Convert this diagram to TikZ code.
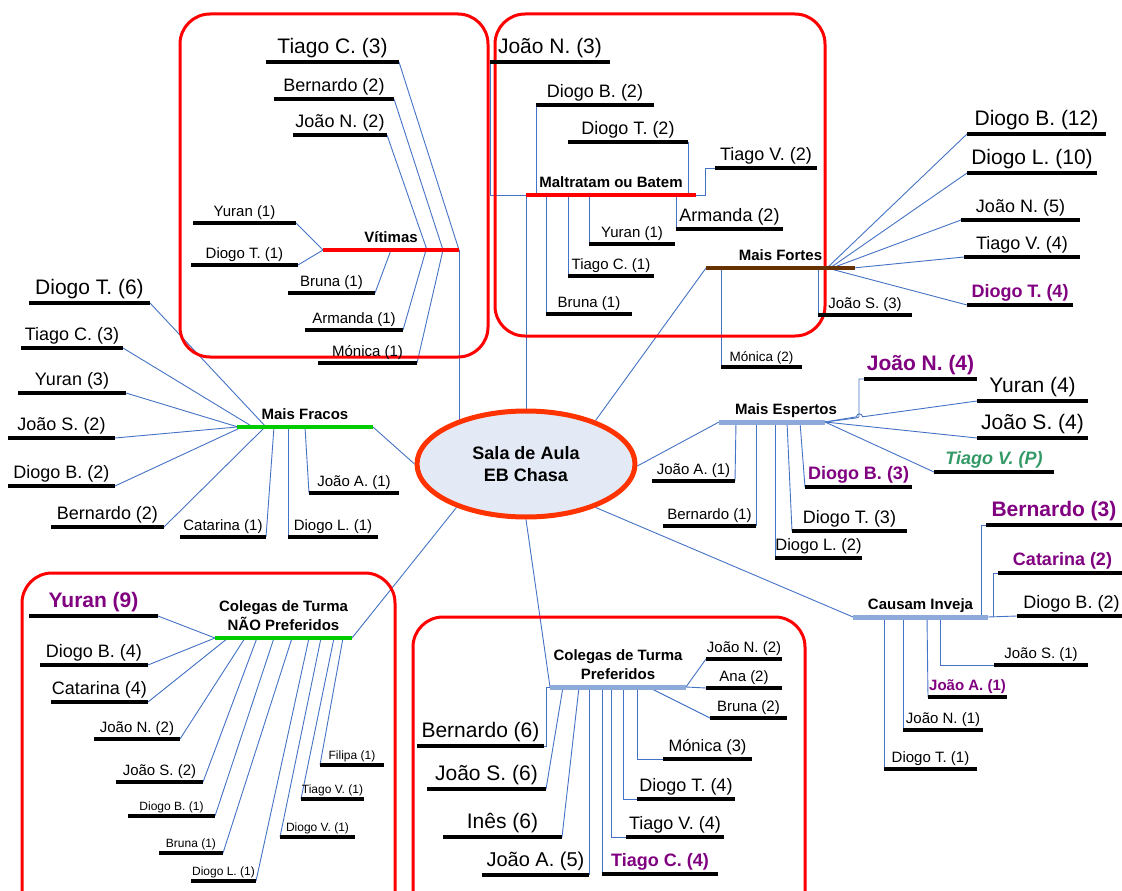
\documentclass[tikz,border=0pt]{standalone}
\usepackage{fontspec}
\setmainfont{Liberation Sans}
\usetikzlibrary{shapes.geometric,backgrounds}

\definecolor{connblue}{HTML}{4472C4}
\definecolor{boxred}{HTML}{FF0000}
\definecolor{hubedge}{HTML}{FF3300}
\definecolor{hubfill}{HTML}{E4EAF5}
\definecolor{grbar}{HTML}{00CC00}
\definecolor{brbar}{HTML}{663300}
\definecolor{stbar}{HTML}{8EAADB}
\definecolor{hlpurple}{HTML}{800080}
\definecolor{hlgreen}{HTML}{339966}

\tikzset{
  conn/.style={draw=connblue, line width=0.9pt},
  underline/.style={draw=black, line width=4pt},
  leaftext/.style={inner sep=0pt, anchor=base},
  cattext/.style={inner sep=0pt, anchor=base, align=center,
                  font=\fontsize{15}{19}\selectfont\bfseries},
  redbar/.style={draw=boxred, line width=4.5pt},
  greenbar/.style={draw=grbar, line width=4.5pt},
  brownbar/.style={draw=brbar, line width=4.5pt},
  steelbar/.style={draw=stbar, line width=5pt},
  groupframe/.style={draw=boxred, line width=3pt, rounded corners=30pt},
  hub/.style={ellipse, draw=hubedge, fill=hubfill, line width=5pt,
              minimum width=218pt, minimum height=106pt, inner sep=0pt,
              align=center, font=\fontsize{18}{22}\selectfont\bfseries},
}

% emphasised names
\newcommand\hilite{\bfseries\color{hlpurple}}
\newcommand\favored{\bfseries\itshape\color{hlgreen}}

% \leaf[prefix]{name}{x1}{x2}{y}{size}{text}: underlined name
\newcommand\leaf[7][]{%
  \coordinate (#2-l) at (#3,#5);
  \coordinate (#2-r) at (#4,#5);
  \draw[underline] (#2-l) -- (#2-r);
  \node[leaftext, font=\fontsize{#6}{#6}\selectfont] (#2)
    at ({(#3+#4)/2},{#5-0.4*#6-0.5}) {#1#7};
}

% \branch[label shift]{name}{x1}{x2}{y}{bar style}{label}: category bar with title
\newcommand\branch[7][0]{%
  \coordinate (#2-l) at (#3,#5);
  \coordinate (#2-r) at (#4,#5);
  \draw[#6] (#2-l) -- (#2-r);
  \node[cattext] (#2) at ({(#3+#4)/2+#1},{#5-7.5}) {#7};
}

\begin{document}
\begin{tikzpicture}[x=1pt,y=-1pt]
\useasboundingbox (0,0) rectangle (1122,891);

% group frames
\draw[groupframe] (180,14) rectangle (488,357);
\draw[groupframe] (495,14) rectangle (825,336);
\draw[groupframe] (22,573) rectangle (395,960);
\draw[groupframe] (413,617) rectangle (805,960);

% ---- Vitimas
\branch{vit}{323}{459}{250}{redbar}{Vítimas}
\leaf{vTC}{266}{399}{62}{21}{Tiago C. (3)}
\leaf{vBE}{274}{394}{99}{18}{Bernardo (2)}
\leaf{vJN}{293}{387}{135}{18}{João N. (2)}
\leaf{vYU}{193}{296}{223}{15}{Yuran (1)}
\leaf{vDT}{191}{298}{265}{15}{Diogo T. (1)}
\leaf{vBR}{288}{375}{293}{15}{Bruna (1)}
\leaf{vAR}{305}{403}{330}{15}{Armanda (1)}
\leaf{vMO}{318}{417}{363}{15}{Mónica (1)}

% ---- Maltratam ou Batem
\branch{mal}{526}{696}{195}{redbar}{Maltratam ou Batem}
\leaf{mJN}{490}{610}{62}{21}{João N. (3)}
\leaf{mDB}{536}{654}{105}{18}{Diogo B. (2)}
\leaf{mDT}{568}{688}{142}{18}{Diogo T. (2)}
\leaf{mTV}{715}{817}{168}{18}{Tiago V. (2)}
\leaf{mAR}{676}{783}{229}{18}{Armanda (2)}
\leaf{mYU}{589}{675}{244}{15}{Yuran (1)}
\leaf{mTC}{568}{654}{276}{15}{Tiago C. (1)}
\leaf{mBR}{546}{632}{314}{15}{Bruna (1)}

% ---- Mais Fortes
\branch{for}{706}{855}{268}{brownbar}{Mais Fortes}
\leaf{fDB}{967}{1106}{134}{21}{Diogo B. (12)}
\leaf{fDL}{967}{1097}{173}{21}{Diogo L. (10)}
\leaf{fJN}{961}{1080}{220}{18}{João N. (5)}
\leaf{fTV}{964}{1080}{257}{18}{Tiago V. (4)}
\leaf[\hilite]{fDT}{967}{1073}{305}{18}{Diogo T. (4)}
\leaf{fJS}{818}{912}{315}{15}{João S. (3)}
\leaf{fMO}{721}{802}{367}{13.5}{Mónica (2)}

% ---- Mais Fracos
\branch{fra}{237}{373}{427}{greenbar}{Mais Fracos}
\leaf{wDT}{29}{150}{303}{21}{Diogo T. (6)}
\leaf{wTC}{21}{123}{348}{18}{Tiago C. (3)}
\leaf{wYU}{18}{126}{393}{18}{Yuran (3)}
\leaf{wJS}{8}{115}{438}{18}{João S. (2)}
\leaf{wDB}{8}{115}{486}{18}{Diogo B. (2)}
\leaf{wBE}{51}{164}{527}{18}{Bernardo (2)}
\leaf{wCA}{180}{266}{537}{15}{Catarina (1)}
\leaf{wDL}{288}{378}{537}{15}{Diogo L. (1)}
\leaf{wJA}{309}{399}{493}{15}{João A. (1)}

% ---- Mais Espertos
\branch[14]{esp}{719}{825}{422}{steelbar}{Mais Espertos}
\leaf[\hilite]{eJN}{864}{977}{379}{21}{João N. (4)}
\leaf{eYU}{977}{1088}{401}{21}{Yuran (4)}
\leaf{eJS}{977}{1088}{438}{21}{João S. (4)}
\leaf[\favored]{eTV}{934}{1054}{472}{18}{Tiago V. (P)}
\leaf[\hilite]{eDB}{805}{912}{487}{18}{Diogo B. (3)}
\leaf{eDT}{792}{907}{531}{18}{Diogo T. (3)}
\leaf{eDL}{775}{862}{558}{16.5}{Diogo L. (2)}
\leaf{eBE}{663}{756}{526}{15}{Bernardo (1)}
\leaf{eJA}{652}{735}{481}{15}{João A. (1)}

% ---- Causam Inveja
\branch{inv}{853}{988}{617}{steelbar}{Causam Inveja}
\leaf[\hilite]{iBE}{986}{1122}{525}{21}{Bernardo (3)}
\leaf[\hilite]{iCA}{998}{1127}{573}{18}{Catarina (2)}
\leaf{iDB}{1017}{1126}{616}{18}{Diogo B. (2)}
\leaf{iJS}{994}{1088}{665}{15}{João S. (1)}
\leaf[\hilite]{iJA}{928}{1007}{697}{15}{João A. (1)}
\leaf{iJN}{903}{983}{730}{15}{João N. (1)}
\leaf{iDT}{884}{977}{769}{15}{Diogo T. (1)}

% ---- Colegas de Turma NAO Preferidos
\branch{nao}{215}{352}{638}{greenbar}{Colegas de Turma\\NÃO Preferidos}
\leaf[\hilite]{nYU}{29}{158}{616}{21}{Yuran (9)}
\leaf{nDB}{40}{148}{665}{18}{Diogo B. (4)}
\leaf{nCA}{51}{148}{702}{18}{Catarina (4)}
\leaf{nJN}{94}{180}{739}{15}{João N. (2)}
\leaf{nJS}{116}{203}{782}{15}{João S. (2)}
\leaf{nDBb}{128}{215}{816}{12}{Diogo B. (1)}
\leaf{nBR}{159}{223}{853}{12}{Bruna (1)}
\leaf{nDL}{191}{256}{881}{12}{Diogo L. (1)}
\leaf{nDV}{280}{355}{837}{12}{Diogo V. (1)}
\leaf{nTV}{301}{364}{799}{12}{Tiago V. (1)}
\leaf{nFI}{320}{384}{765}{12}{Filipa (1)}

% ---- Colegas de Turma Preferidos
\branch{pre}{550}{686}{687}{steelbar}{Colegas de Turma\\Preferidos}
\leaf{pJN}{706}{782}{659}{15}{João N. (2)}
\leaf{pAN}{706}{782}{688}{15}{Ana (2)}
\leaf{pBR}{710}{787}{718}{15}{Bruna (2)}
\leaf{pMO}{663}{752}{759}{16.5}{Mónica (3)}
\leaf{pDT}{637}{735}{799}{18}{Diogo T. (4)}
\leaf{pTV}{626}{724}{837}{18}{Tiago V. (4)}
\leaf[\hilite]{pTC}{602}{718}{874}{18}{Tiago C. (4)}
\leaf{pJA}{482}{589}{875}{20}{João A. (5)}
\leaf{pIN}{443}{562}{837}{21}{Inês (6)}
\leaf{pJS}{427}{546}{789}{21}{João S. (6)}
\leaf{pBE}{417}{544}{746}{21}{Bernardo (6)}

% ---- centre
\node[hub] (hub) at (526,464) {Sala de Aula\\EB Chasa};

% ---- connectors
\begin{pgfonlayer}{background}
% Vitimas
\draw[conn] (vTC-r) -- (vit-r);
\draw[conn] (vBE-r) -- ([xshift=120pt]vit-l);
\draw[conn] (vJN-r) -- ([xshift=104pt]vit-l);
\draw[conn] (vYU-r) -- (vit-l);
\draw[conn] (vDT-r) -- (vit-l);
\draw[conn] (vBR-r) -- ([xshift=68pt]vit-l);
\draw[conn] (vAR-r) -- ([xshift=103pt]vit-l);
\draw[conn] (vMO-r) -- ([xshift=120pt]vit-l);
\draw[conn] (vit-r) -- (vit-r |- hub.center);
% Maltratam ou Batem
\draw[conn] (mJN-l) |- (mal-l);
\draw[conn] (mDB-l) -- (mDB-l |- mal-l);
\draw[conn] (mDT-r) -- (mDT-r |- mal-l);
\draw[conn] (mal-r) -- ++(9,0) |- (mTV-l);
\draw[conn] (mAR-l) -- (mAR-l |- mal-l);
\draw[conn] (mYU-l) -- (mYU-l |- mal-l);
\draw[conn] (mTC-l) -- (mTC-l |- mal-l);
\draw[conn] (mBR-l) -- (mBR-l |- mal-l);
\draw[conn] (mal-l) -- (mal-l |- hub.center);
% Mais Fortes
\draw[conn] (fDB-l) -- ([xshift=121pt]for-l);
\draw[conn] (fDL-l) -- ([xshift=124pt]for-l);
\draw[conn] (fJN-l) -- ([xshift=126pt]for-l);
\draw[conn] (fTV-l) -- ([xshift=147pt]for-l);
\draw[conn] (fDT-l) -- ([xshift=121pt]for-l);
\draw[conn] (fJS-l) -- (fJS-l |- for-l);
\draw[conn] (fMO-l) -- (fMO-l |- for-l);
\draw[conn] (for-l) -- (hub.32);
% Mais Fracos
\draw[conn] (wDT-r) -- ([xshift=29pt]fra-l);
\draw[conn] (wTC-r) -- ([xshift=16pt]fra-l);
\draw[conn] (wYU-r) -- ([xshift=1pt]fra-l);
\draw[conn] (wJS-r) -- (fra-l);
\draw[conn] (wDB-r) -- ([xshift=5pt]fra-l);
\draw[conn] (wBE-r) -- ([xshift=28pt]fra-l);
\draw[conn] (wCA-r) -- ([xshift=37pt]fra-l);
\draw[conn] (wDL-l) -- (wDL-l |- fra-l);
\draw[conn] (wJA-l) -- ([xshift=68pt]fra-l);
\draw[conn] (fra-r) -- (hub.180);
% Mais Espertos
\draw[conn] (esp-r) -- ++(31,-4) -- ++(3,-1) |- (eJN-l);
\draw[conn] (eYU-l) -- (862.5,416.8) arc[start angle=0,end angle=-180,radius=3]
            -- (esp-r);
\draw[conn] (eJS-l) -- (esp-r);
\draw[conn] (eTV-l) -- (esp-r);
\draw[conn] (eDB-l) -- ([xshift=81pt]esp-l);
\draw[conn] (eDT-l) -- ([xshift=68pt]esp-l);
\draw[conn] (eDL-l) -- (eDL-l |- esp-l);
\draw[conn] (eBE-r) -- (eBE-r |- esp-l);
\draw[conn] (eJA-r) -- ([xshift=17pt]esp-l);
\draw[conn] (esp-l) -- (hub.-1);
% Causam Inveja
\draw[conn] ([xshift=128pt]inv-l) |- (iBE-l);
\draw[conn] ([xshift=140pt]inv-l) |- (iCA-l);
\draw[conn] (inv-r) -- (iDB-l);
\draw[conn] ([xshift=87pt]inv-l) |- (iJS-l);
\draw[conn] ([xshift=74pt]inv-l) -- (iJA-l);
\draw[conn] (iJN-l) -- (iJN-l |- inv-l);
\draw[conn] (iDT-l) -- (iDT-l |- inv-l);
\draw[conn] (inv-l) -- (hub.-32);
% Colegas de Turma NAO Preferidos
\draw[conn] (nYU-r) -- (nao-l);
\draw[conn] (nDB-r) -- (nao-l);
\draw[conn] (nCA-r) -- ([xshift=13pt]nao-l);
\draw[conn] (nJN-r) -- ([xshift=30pt]nao-l);
\draw[conn] (nJS-r) -- ([xshift=42pt]nao-l);
\draw[conn] (nDBb-r) -- ([xshift=59pt]nao-l);
\draw[conn] (nBR-r) -- ([xshift=77pt]nao-l);
\draw[conn] (nDL-r) -- ([xshift=94pt]nao-l);
\draw[conn] (nDV-l) -- ([xshift=106pt]nao-l);
\draw[conn] (nTV-l) -- ([xshift=119pt]nao-l);
\draw[conn] (nFI-l) -- ([xshift=128pt]nao-l);
\draw[conn] (nao-r) -- (hub.212);
% Colegas de Turma Preferidos
\draw[conn] (pre-r) -- (pJN-l);
\draw[conn] (pre-r) -- (pAN-l);
\draw[conn] (pBR-l) -- ([xshift=98pt]pre-l);
\draw[conn] ([xshift=87pt]pre-l) |- (pMO-l);
\draw[conn] ([xshift=73pt]pre-l) |- (pDT-l);
\draw[conn] ([xshift=61pt]pre-l) |- (pTV-l);
\draw[conn] (pTC-l) -- (pTC-l |- pre-l);
\draw[conn] (pJA-r) -- (pJA-r |- pre-l);
\draw[conn] (pIN-r) -- ([xshift=29pt]pre-l);
\draw[conn] (pJS-r) -- ([xshift=13pt]pre-l);
\draw[conn] (pBE-r) -- ++(2,0) |- (pre-l);
\draw[conn] (pre-l) -- (hub.270);
\end{pgfonlayer}
\end{tikzpicture}
\end{document}
